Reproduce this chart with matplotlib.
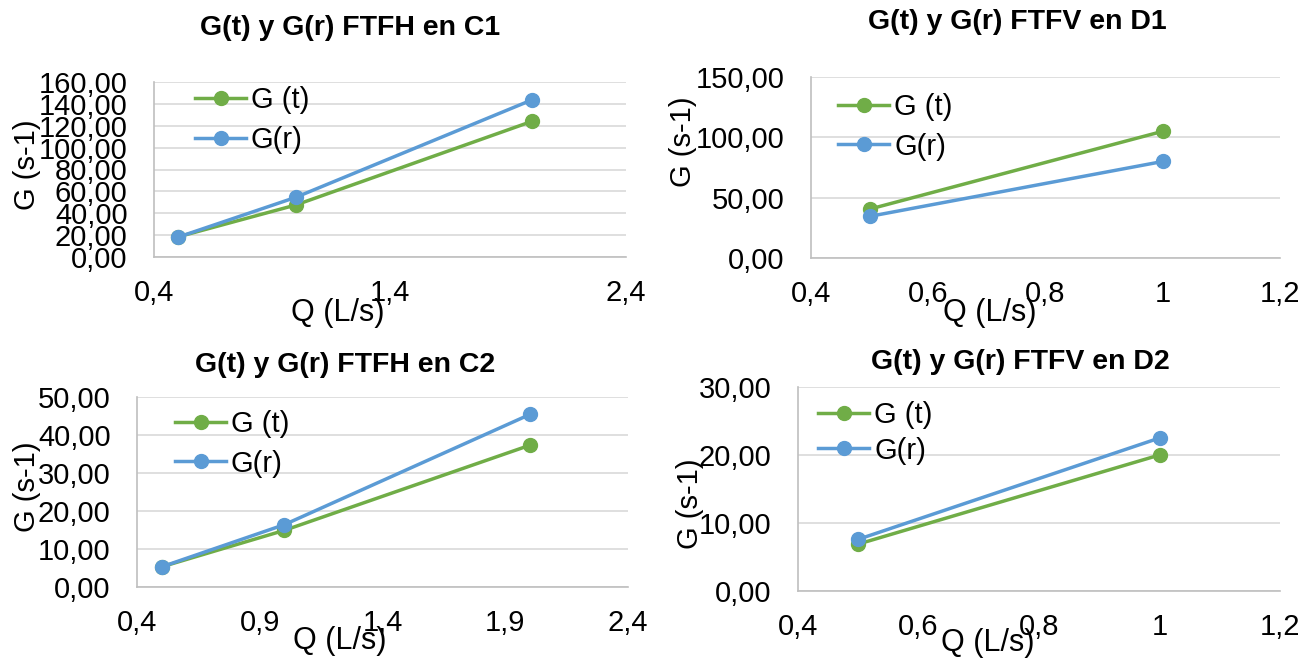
import matplotlib
matplotlib.use("Agg")
import matplotlib.pyplot as plt

plt.rcParams['font.family'] = ['Liberation Sans', 'DejaVu Sans']

W, H = 1315, 660
DPI = 100

# ---- data ----
q_c = [0.5, 1.0, 2.0]
gt_c1 = [18.3, 47.5, 123.9]
gr_c1 = [18.0, 54.5, 143.5]
gt_c2 = [5.3, 14.9, 37.3]
gr_c2 = [5.3, 16.4, 45.4]

q_d = [0.5, 1.0]
gt_d1 = [40.5, 105.0]
gr_d1 = [34.5, 80.0]
gt_d2 = [6.9, 20.0]
gr_d2 = [7.6, 22.5]

titles = ["G(t) y G(r) FTFH en C1", "G(t) y G(r) FTFV en D1",
          "G(t) y G(r) FTFH en C2", "G(t) y G(r) FTFV en D2"]
series_names = ["G (t)", "G(r)"]
xlab = "Q (L/s)"
ylab = "G (s-1)"

xt_c1 = [0.4, 1.4, 2.4]
xt_c2 = [0.4, 0.9, 1.4, 1.9, 2.4]
xt_d = [0.4, 0.6, 0.8, 1.0, 1.2]
yt_c1 = [0, 20, 40, 60, 80, 100, 120, 140, 160]
yt_d1 = [0, 50, 100, 150]
yt_c2 = [0, 10, 20, 30, 40, 50]
yt_d2 = [0, 10, 20, 30]

GREEN = '#70AD47'
BLUE = '#5B9BD5'
FS = 21

fig = plt.figure(figsize=(W / DPI, H / DPI), dpi=DPI)


def fx(px):
    return px / W


def fy(py):
    return 1 - py / H


def fmt_x(v):
    s = ('%g' % v)
    return s.replace('.', ',')


def make_panel(box, x, gt, gr, xticks, yticks, title, tpos, ylpos, xlpos, legpos, lsp):
    l, r, t, b = box
    ax = fig.add_axes([fx(l), fy(b), fx(r - l), (b - t) / H])
    ax.plot(x, gt, color=GREEN, lw=2.5, marker='o', ms=10, label=series_names[0], zorder=3)
    ax.plot(x, gr, color=BLUE, lw=2.5, marker='o', ms=10, label=series_names[1], zorder=4)
    ax.set_xlim(xticks[0], xticks[-1])
    ax.set_ylim(yticks[0], yticks[-1])
    ax.set_xticks(xticks)
    ax.set_xticklabels([fmt_x(v) for v in xticks])
    ax.set_yticks(yticks)
    ax.set_yticklabels([('%.2f' % v).replace('.', ',') for v in yticks])
    ax.tick_params(axis='y', length=0, labelsize=FS, pad=19)
    ax.tick_params(axis='x', length=0, labelsize=FS, pad=16)
    ax.grid(axis='y', color='#D9D9D9', lw=1.2)
    ax.set_axisbelow(True)
    for s in ['top', 'right']:
        ax.spines[s].set_visible(False)
    for s in ['left', 'bottom']:
        ax.spines[s].set_color('#BFBFBF')
        ax.spines[s].set_linewidth(1.2)
    ax.patch.set_alpha(0)
    fig.text(fx(tpos[0]), fy(tpos[1]), title, ha='center', va='center',
             fontsize=20.5, fontweight='bold')
    fig.text(fx(ylpos[0]), fy(ylpos[1]), ylab, ha='center', va='center',
             rotation=90, fontsize=FS)
    fig.text(fx(xlpos[0]), fy(xlpos[1]), xlab, ha='center', va='center', fontsize=22)
    lx = (legpos[0] - l) / (r - l)
    ly = (b - legpos[1]) / (b - t)
    ax.legend(loc='upper left', bbox_to_anchor=(lx, ly), frameon=False,
              fontsize=FS, handlelength=1.75, handletextpad=0.17,
              labelspacing=lsp, borderpad=0, borderaxespad=0)
    return ax


make_panel((154, 626, 82, 257), q_c, gt_c1, gr_c1, xt_c1, yt_c1, titles[0],
           (350, 28), (27, 165), (338, 313), (195, 86), 0.42)
make_panel((811, 1280, 77, 258), q_d, gt_d1, gr_d1, xt_d, yt_d1, titles[1],
           (1017, 22), (683, 142), (990, 313), (838, 93), 0.4)
make_panel((137, 628, 397, 587), q_c, gt_c2, gr_c2, xt_c2, yt_c2, titles[2],
           (345, 365), (27, 487), (340, 641), (175, 410), 0.4)
make_panel((798, 1280, 387, 591), q_d, gt_d2, gr_d2, xt_d, yt_d2, titles[3],
           (1020, 362), (690, 504), (988, 643), (818, 401), 0.26)

fig.savefig('out.png', dpi=DPI)
